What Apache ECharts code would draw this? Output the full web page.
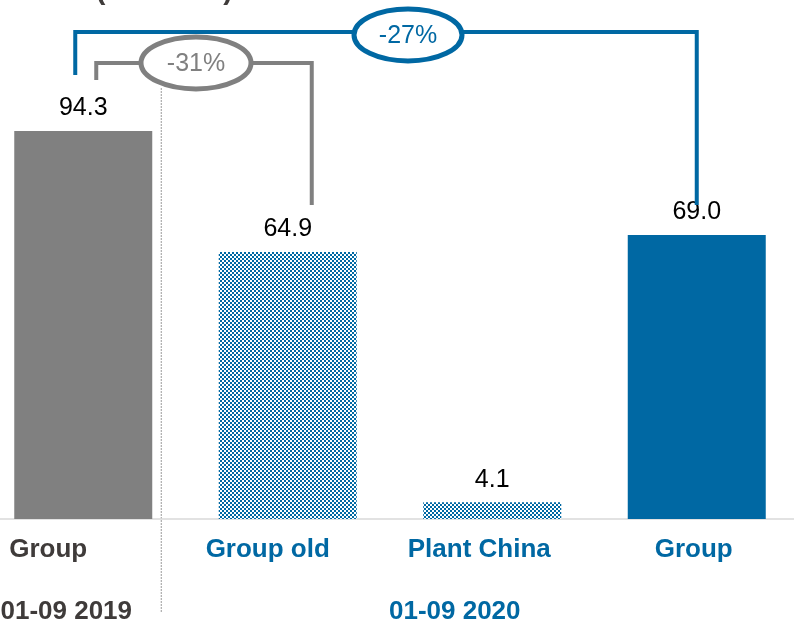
<!DOCTYPE html>
<html>
<head>
<meta charset="utf-8">
<script src="https://cdn.jsdelivr.net/npm/echarts@6/dist/echarts.min.js"></script>
<style>
  html, body { margin: 0; padding: 0; background: #ffffff; }
  #chart { width: 794px; height: 622px; }
</style>
</head>
<body>
<div id="chart"></div>
<script>
// Sales by reporting unit, nine-month comparison
const categories = ['Group', 'Group old', 'Plant China', 'Group'];
const values = [94.3, 64.9, 4.1, 69.0];
const periods = ['01-09 2019', '01-09 2020'];
const changes = ['-31%', '-27%'];
const titleText = 'Sales (€ million)';

const BLUE = '#0068a3';
const GREY = '#808080';
const DARK = '#3f3b3a';
const FONT = '"Liberation Sans", Arial, sans-serif';

// blue/white checkerboard fill for the partial-unit bars
function checker() {
  const c = document.createElement('canvas');
  c.width = 4; c.height = 4;
  const g = c.getContext('2d');
  g.fillStyle = '#ffffff'; g.fillRect(0, 0, 4, 4);
  g.fillStyle = BLUE;
  g.fillRect(0, 0, 2, 2); g.fillRect(2, 2, 2, 2);
  return c;
}
const pattern = { image: checker(), repeat: 'repeat' };

const barColors = [GREY, pattern, pattern, BLUE];
const labelColors = [DARK, BLUE, BLUE, BLUE];
// category captions sit slightly left of their bar centres
const labelShift = [70, 40, 26, 6];

const rich = {};
labelColors.forEach((col, i) => {
  rich['l' + i] = { color: col, fontSize: 26, fontWeight: 'bold', fontFamily: FONT, padding: [0, labelShift[i], 0, 0] };
});

const chart = echarts.init(document.getElementById('chart'), null, { renderer: 'canvas' });

chart.setOption({
  animation: false,
  backgroundColor: '#ffffff',
  grid: { left: -19, right: -5, top: 107.5, bottom: 103, containLabel: false, outerBoundsMode: 'none' },
  xAxis: {
    type: 'category',
    data: categories.map((c, i) => 'c' + i),
    axisLine: { show: true, lineStyle: { color: '#d9d9d9', width: 1.5 } },
    axisTick: { show: false },
    axisLabel: {
      margin: 18,
      interval: 0,
      formatter: (v, i) => '{l' + i + '|' + categories[i] + '}',
      rich
    }
  },
  yAxis: { type: 'value', min: 0, max: 100, show: false, splitLine: { show: false } },
  series: [{
    type: 'bar',
    barWidth: 138,
    data: values.map((v, i) => ({ value: v, itemStyle: { color: barColors[i] } })),
    label: {
      show: true, position: 'top', distance: 10,
      formatter: p => p.value.toFixed(1),
      color: '#000000', fontSize: 25, fontFamily: FONT
    }
  }]
});

// Annotations anchored to the bars through the axes
function px(i, v) { return chart.convertToPixel({ xAxisIndex: 0, yAxisIndex: 0 }, ['c' + i, v]); }
const base = px(0, 0)[1];
const c0 = px(0, values[0]), c1 = px(1, values[1]), c3 = px(3, values[3]);

const greyLeft = c0[0] + 13, greyRight = c1[0] + 24, greyY = c0[1] - 68;
const blueLeft = c0[0] - 8, blueRight = c3[0], blueY = c0[1] - 99;

function bubble(cx, cy, rx, ry, color, text) {
  return [
    { type: 'ellipse', z: 10, shape: { cx, cy, rx, ry },
      style: { fill: '#ffffff', stroke: color, lineWidth: 5 } },
    { type: 'text', z: 11, x: cx, y: cy + 1,
      style: { text, fill: color, font: '25px ' + FONT, align: 'center', verticalAlign: 'middle' } }
  ];
}

chart.setOption({
  graphic: [
    // period separator
    { type: 'line', shape: { x1: c0[0] + 78, y1: 88, x2: c0[0] + 78, y2: 613 },
      style: { stroke: '#9a9a9a', lineWidth: 1, lineDash: [2, 1] } },
    // period captions
    { type: 'text', x: c0[0] - 17, y: base + 93,
      style: { text: periods[0], fill: DARK, font: 'bold 26px ' + FONT, align: 'center', verticalAlign: 'middle' } },
    { type: 'text', x: c1[0] + 167, y: base + 93,
      style: { text: periods[1], fill: BLUE, font: 'bold 26px ' + FONT, align: 'center', verticalAlign: 'middle' } },
    // title (runs off the top edge)
    { type: 'text', x: 12, y: -24,
      style: { text: titleText, fill: DARK, font: 'bold 29px ' + FONT } },
    // grey bracket: 2019 group vs old group
    { type: 'polyline', z: 5, shape: { points: [[greyLeft, greyY + 17], [greyLeft, greyY], [greyRight, greyY], [greyRight, c1[1] - 47]] },
      style: { stroke: GREY, lineWidth: 4, fill: null } },
    // blue bracket: 2019 group vs 2020 group
    { type: 'polyline', z: 5, shape: { points: [[blueLeft, blueY + 43], [blueLeft, blueY], [blueRight, blueY], [blueRight, c3[1] - 30]] },
      style: { stroke: BLUE, lineWidth: 4, fill: null } },
    ...bubble(196, greyY, 55, 26, GREY, changes[0]),
    ...bubble(408, blueY + 3, 54, 26, BLUE, changes[1])
  ]
});
</script>
</body>
</html>
